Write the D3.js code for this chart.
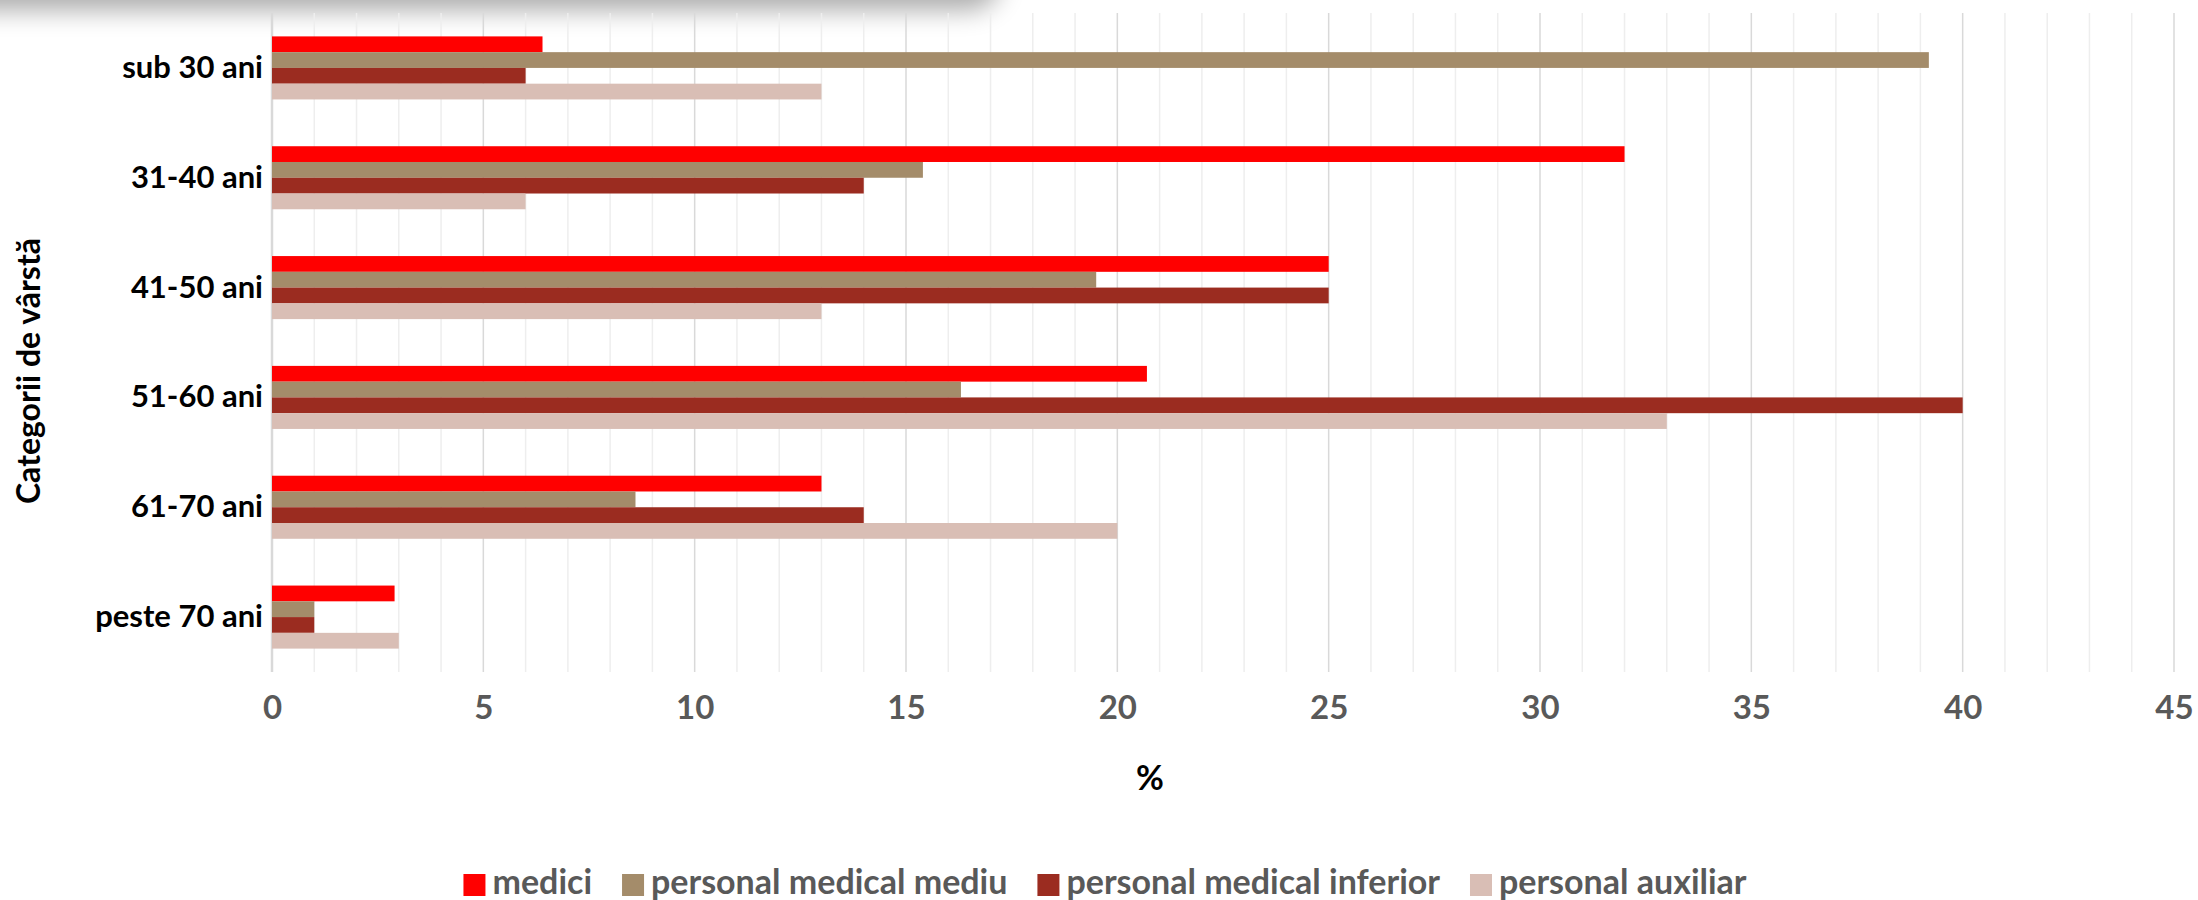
<!DOCTYPE html>
<html>
<head>
<meta charset="utf-8">
<style>
  body { margin: 0; background: #fff; }
  svg { display: block; font-family: Lato, "Open Sans", sans-serif; }
</style>
</head>
<body>
<svg width="2198" height="900"></svg>
<script src="https://d3js.org/d3.v7.min.js"></script>
<script>

// age groups (top to bottom)
var categories = ["sub 30 ani", "31-40 ani", "41-50 ani", "51-60 ani", "61-70 ani", "peste 70 ani"];
var seriesNames = ["medici", "personal medical mediu", "personal medical inferior", "personal auxiliar"];

// % per age group
var medici = [6.4, 32, 25, 20.7, 13, 2.9];
var mediu = [39.2, 15.4, 19.5, 16.3, 8.6, 1];
var inferior = [6, 14, 25, 40, 14, 1];
var auxiliar = [13, 6, 13, 33, 20, 3];

var xTicks = [0, 5, 10, 15, 20, 25, 30, 35, 40, 45];
var colors = ["#ff0000", "#a48c6a", "#9b2c20", "#d9beb5"];

var svg = d3.select("svg"),
  width = +svg.attr("width"),
  height = +svg.attr("height");

var plot = {left: 272, right: 2174, top: 13, bottom: 672};

var values = [medici, mediu, inferior, auxiliar];
var rows = categories.map(function(c, i) {
  return {cat: c, vals: seriesNames.map(function(s, j) { return {name: s, v: values[j][i], j: j}; })};
});

var x = d3.scaleLinear().domain([0, 45]).range([plot.left, plot.right]);
var y = d3.scaleBand().domain(categories).range([plot.top, plot.bottom])
  .paddingInner(0.426).paddingOuter(0.213);
var y1 = d3.scaleBand().domain(seriesNames).range([0, y.bandwidth()]);
var color = d3.scaleOrdinal().domain(seriesNames).range(colors);

// shadow in the top-left corner
var defs = svg.append("defs");
defs.append("filter").attr("id", "blur")
    .attr("x", "-20%").attr("y", "-100%").attr("width", "140%").attr("height", "300%")
  .append("feGaussianBlur").attr("stdDeviation", 13);
svg.append("rect")
    .attr("x", -60).attr("y", -70).attr("width", 1060).attr("height", 80)
    .attr("rx", 30)
    .attr("fill", "#000").attr("opacity", 0.33)
    .attr("filter", "url(#blur)");

// grid lines, minor every 1, major every 5
var grid = svg.append("g");
grid.selectAll("line.minor")
  .data(d3.range(0, 46).filter(function(d) { return d % 5 !== 0; }))
  .enter().append("line")
    .attr("class", "minor")
    .attr("x1", function(d) { return x(d); }).attr("x2", function(d) { return x(d); })
    .attr("y1", plot.top).attr("y2", plot.bottom)
    .attr("stroke", "#eeeeee").attr("stroke-width", 1.5);
grid.selectAll("line.major")
  .data(xTicks)
  .enter().append("line")
    .attr("class", "major")
    .attr("x1", function(d) { return x(d); }).attr("x2", function(d) { return x(d); })
    .attr("y1", plot.top).attr("y2", plot.bottom)
    .attr("stroke", "#d9d9d9").attr("stroke-width", function(d) { return d === 0 ? 2.5 : 1.5; });

// bars
var groups = svg.selectAll(".grp")
  .data(rows)
  .enter().append("g")
    .attr("class", "grp")
    .attr("transform", function(d) { return "translate(0," + y(d.cat) + ")"; });

groups.selectAll("rect")
  .data(function(d) { return d.vals; })
  .enter().append("rect")
    .attr("x", x(0))
    .attr("y", function(d) { return y1(d.name); })
    .attr("width", function(d) { return x(d.v) - x(0); })
    .attr("height", y1.bandwidth())
    .attr("fill", function(d) { return color(d.name); });

// x axis
var xAxis = svg.append("g")
    .attr("transform", "translate(0," + plot.bottom + ")")
    .call(d3.axisBottom(x).tickValues(xTicks).tickSize(0).tickPadding(24));
xAxis.select(".domain").remove();
xAxis.selectAll("text")
    .attr("fill", "#595959")
    .style("font-family", "Lato")
    .style("font-size", "33px")
    .style("font-weight", "bold");

// y axis
var yAxis = svg.append("g")
    .attr("transform", "translate(" + plot.left + ",0)")
    .call(d3.axisLeft(y).tickSize(0).tickPadding(9));
yAxis.select(".domain").remove();
yAxis.selectAll("text")
    .attr("fill", "#000")
    .style("font-family", "Lato")
    .style("font-size", "31px")
    .style("font-weight", "bold");

// axis titles
svg.append("text")
    .attr("transform", "translate(40,371) rotate(-90)")
    .attr("text-anchor", "middle")
    .style("font-size", "32px").style("font-weight", "bold")
    .attr("fill", "#000")
    .text("Categorii de vârstă");

svg.append("text")
    .attr("x", 1150).attr("y", 790)
    .attr("text-anchor", "middle")
    .style("font-size", "34px").style("font-weight", "bold")
    .attr("fill", "#000")
    .text("%");

// legend
var legend = svg.append("g");
var items = legend.selectAll("g")
  .data(seriesNames)
  .enter().append("g");
items.append("rect")
    .attr("width", 22).attr("height", 22)
    .attr("y", 874)
    .attr("fill", function(d) { return color(d); });
items.append("text")
    .attr("x", 29).attr("y", 894)
    .attr("fill", "#595959")
    .style("font-size", "34px").style("font-weight", "bold")
    .text(function(d) { return d; });

var gap = 30, pos = 0, offsets = [];
items.each(function() {
  offsets.push(pos);
  pos += 29 + this.querySelector("text").getComputedTextLength() + gap;
});
var total = pos - gap;
var start = 1105 - total / 2;
items.attr("transform", function(d, i) { return "translate(" + (start + offsets[i]) + ",0)"; });

</script>
</body>
</html>
